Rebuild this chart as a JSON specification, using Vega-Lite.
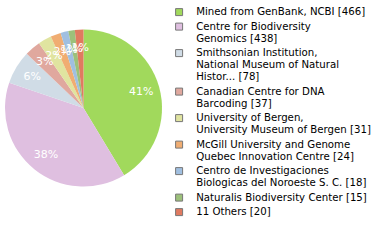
{
  "$schema": "https://vega.github.io/schema/vega-lite/v6.json",
  "width": 167,
  "height": 216,
  "padding": 0,
  "autosize": {"type": "pad"},
  "background": "white",
  "data": {"values": [
    {"rank": 1, "org": "Mined from GenBank, NCBI [466]", "n": 466},
    {"rank": 2, "org": "Centre for Biodiversity|Genomics [438]", "n": 438},
    {"rank": 3, "org": "Smithsonian Institution,|National Museum of Natural|Histor... [78]", "n": 78},
    {"rank": 4, "org": "Canadian Centre for DNA|Barcoding [37]", "n": 37},
    {"rank": 5, "org": "University of Bergen,|University Museum of Bergen [31]", "n": 31},
    {"rank": 6, "org": "McGill University and Genome|Quebec Innovation Centre [24]", "n": 24},
    {"rank": 7, "org": "Centro de Investigaciones|Biologicas del Noroeste S. C. [18]", "n": 18},
    {"rank": 8, "org": "Naturalis Biodiversity Center [15]", "n": 15},
    {"rank": 9, "org": "11 Others [20]", "n": 20}
  ]},
  "transform": [
    {"joinaggregate": [{"op": "sum", "field": "n", "as": "total"}]},
    {"calculate": "floor(100 * datum.n / datum.total) + '%'", "as": "pct"}
  ],
  "encoding": {
    "theta": {"field": "n", "type": "quantitative", "stack": true},
    "order": {"field": "rank", "type": "quantitative"}
  },
  "layer": [
    {
      "mark": {"type": "arc", "outerRadius": 78.5},
      "encoding": {
        "color": {
          "field": "org", "type": "nominal", "sort": null,
          "scale": {
            "domain": [
              "Mined from GenBank, NCBI [466]",
              "Centre for Biodiversity|Genomics [438]",
              "Smithsonian Institution,|National Museum of Natural|Histor... [78]",
              "Canadian Centre for DNA|Barcoding [37]",
              "University of Bergen,|University Museum of Bergen [31]",
              "McGill University and Genome|Quebec Innovation Centre [24]",
              "Centro de Investigaciones|Biologicas del Noroeste S. C. [18]",
              "Naturalis Biodiversity Center [15]",
              "11 Others [20]"
            ],
            "range": ["#a1d95c", "#dfbfe0", "#d0dce6", "#e0a89e", "#e0e4a0", "#f0ad72", "#a0bfe0", "#9cc07a", "#e07a60"]
          },
          "legend": {
            "title": null,
            "orient": "right",
            "offset": 0,
            "padding": 7,
            "labelExpr": "split(datum.label, '|')",
            "symbolType": "square",
            "symbolSize": 49,
            "symbolStrokeColor": "#777777",
            "symbolStrokeWidth": 1,
            "symbolOpacity": 1,
            "labelOffset": 12,
            "labelFont": "DejaVu Sans",
            "labelFontSize": 10.2,
            "labelColor": "#000000",
            "labelLimit": 250,
            "rowPadding": 2.5
          }
        }
      }
    },
    {
      "mark": {"type": "text", "radius": 60, "fill": "white", "font": "DejaVu Sans", "fontSize": 11},
      "encoding": {"text": {"field": "pct", "type": "nominal"}}
    }
  ],
  "config": {"view": {"stroke": null}}
}
